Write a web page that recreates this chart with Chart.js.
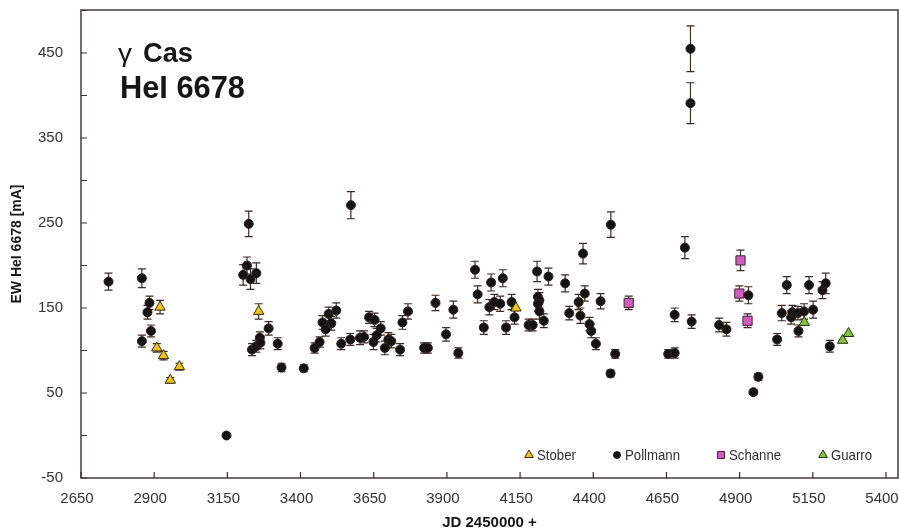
<!DOCTYPE html>
<html>
<head>
<meta charset="utf-8">
<script src="https://cdn.jsdelivr.net/npm/chart.js@4.4.0/dist/chart.umd.min.js"></script>
<style>
  body { margin: 0; background: #fff; }
  canvas { display: block; }
</style>
</head>
<body>
<canvas id="ewChart" width="899" height="531"></canvas>
<script>
// data: JD - 2450000, EW in mA, error half-length
const stoberJD  = [2909, 2920, 2932, 2955, 2986, 3257, 4136];
const stoberEW  = [103, 151, 94, 65, 81, 146, 150];
const stoberErr = [5, 8, 5, 3, 4, 9, 0];

const pollmannJD = [2744, 2858, 2858, 2877, 2884, 2889, 3147, 3204, 3217, 3223, 3229, 3249, 3234, 3249, 3261, 3263,
  3291, 3322, 3335, 3411, 3448, 3465, 3475, 3486, 3496, 3505, 3522, 3539, 3570, 3572, 3603, 3617,
  3634, 3653, 3649, 3660, 3674, 3688, 3700, 3710, 3740, 3748, 3767, 3822, 3835, 3861, 3897, 3922,
  3939, 3996, 4005, 4026, 4045, 4051, 4062, 4082, 4091, 4102, 4121, 4131, 4179, 4193, 4208, 4211,
  4216, 4211, 4216, 4231, 4247, 4304, 4318, 4350, 4356, 4365, 4371, 4387, 4393, 4409, 4425, 4460,
  4475, 4459, 4656, 4678, 4678, 4713, 4732, 4732, 4736, 4830, 4855, 4930, 4947, 4964, 5028, 5044,
  5061, 5076, 5080, 5099, 5101, 5120, 5137, 5151, 5183, 5194, 5208];
const pollmannEW = [181, 185, 111, 145, 156, 123, 0, 189, 200, 249, 184, 191, 101, 105, 115, 109,
  126, 108, 80, 79, 103, 110, 133, 125, 143, 132, 147, 108, 113, 271, 115, 116,
  139, 136, 110, 118, 126, 103, 113, 111, 101, 133, 146, 103, 103, 156, 119, 148,
  97, 195, 166, 127, 151, 180, 157, 155, 185, 127, 157, 139, 130, 130, 193, 163,
  159, 155, 146, 135, 187, 179, 144, 157, 141, 214, 167, 131, 123, 108, 158, 248,
  96, 73, 96, 97, 142, 221, 455, 391, 134, 130, 125, 165, 51, 69, 113, 144,
  177, 139, 145, 144, 123, 146, 177, 148, 171, 179, 105];
const pollmannErr = [10, 11, 7, 8, 8, 7, 0, 12, 10, 15, 12, 12, 7, 7, 7, 7,
  8, 7, 5, 4, 6, 6, 8, 8, 8, 8, 9, 7, 7, 16, 8, 7,
  7, 8, 9, 8, 8, 8, 8, 8, 7, 8, 9, 6, 6, 9, 8, 10,
  6, 10, 10, 8, 9, 10, 9, 9, 10, 8, 9, 8, 7, 7, 12, 9,
  9, 9, 9, 8, 10, 10, 8, 9, 9, 12, 9, 8, 8, 7, 9, 15,
  5, 4, 5, 6, 8, 13, 27, 24, 8, 8, 8, 10, 3, 4, 7, 9,
  10, 8, 8, 8, 7, 9, 10, 10, 10, 12, 7];

const schanneJD  = [4521, 4899, 4903, 4927];
const schanneEW  = [156, 167, 206, 135];
const schanneErr = [8, 9, 12, 8];

const guarroJD  = [5121, 5252, 5272];
const guarroEW  = [133, 112, 120];
const guarroErr = [0, 0, 0];

const xTicks = [2650, 2900, 3150, 3400, 3650, 3900, 4150, 4400, 4650, 4900, 5150, 5400];
const yTicks = [-50, 50, 150, 250, 350, 450];
const X_MAX = 5441;
const Y_MAX = 500.6;

const FONT = '"Liberation Sans", Arial, sans-serif';
const INK = '#3a302b';

function pts(xs, ys, errs) {
    return xs.map((x, i) => ({ x: x, y: ys[i], err: errs[i] }));
}

// draw text squeezed to a given width (the original uses a condensed face)
function fitText(ctx, text, x, y, width) {
    const w = ctx.measureText(text).width;
    ctx.save();
    ctx.translate(x, y);
    ctx.scale(width / w, 1);
    ctx.fillText(text, 0, 0);
    ctx.restore();
}

function noPadding(s) {
    s.paddingLeft = 0; s.paddingRight = 0; s.paddingTop = 0; s.paddingBottom = 0;
}

// error bars, drawn under the markers
const errorBars = {
    id: 'errorBars',
    beforeDatasetsDraw(chart) {
        const { ctx, scales: { x, y } } = chart;
        ctx.save();
        ctx.strokeStyle = '#3d2b20';
        ctx.lineWidth = 1.2;
        chart.data.datasets.forEach(ds => {
            ds.data.forEach(p => {
                if (!p.err) return;
                const px = x.getPixelForValue(p.x);
                const top = y.getPixelForValue(p.y + p.err);
                const bot = y.getPixelForValue(p.y - p.err);
                ctx.beginPath();
                ctx.moveTo(px, top); ctx.lineTo(px, bot);
                ctx.moveTo(px - 4, top); ctx.lineTo(px + 4, top);
                ctx.moveTo(px - 4, bot); ctx.lineTo(px + 4, bot);
                ctx.stroke();
            });
        });
        ctx.restore();
    }
};

// frame, inward ticks, title and legend
const decorations = {
    id: 'decorations',
    afterDatasetsDraw(chart) {
        const { ctx, chartArea: a, scales: { x, y } } = chart;
        ctx.save();
        ctx.strokeStyle = INK;
        ctx.lineWidth = 1.4;
        ctx.strokeRect(a.left, a.top, a.right - a.left, a.bottom - a.top);

        ctx.lineWidth = 1.2;
        ctx.beginPath();
        xTicks.forEach(v => {
            const px = x.getPixelForValue(v);
            ctx.moveTo(px, a.bottom); ctx.lineTo(px, a.bottom - 6);
        });
        yTicks.forEach(t => {
            [t, t + 50].forEach(v => {
                if (v >= y.max) return;
                const py = y.getPixelForValue(v);
                ctx.moveTo(a.left, py); ctx.lineTo(a.left + 6, py);
            });
        });
        ctx.stroke();

        // title
        ctx.fillStyle = '#161616';
        ctx.textBaseline = 'alphabetic';
        ctx.font = '26px ' + FONT;
        fitText(ctx, '\u03b3', 118, 62, 14);
        ctx.font = 'bold 27px ' + FONT;
        fitText(ctx, 'Cas', 143, 62, 50);
        ctx.font = 'bold 32px ' + FONT;
        fitText(ctx, 'HeI 6678', 120, 98, 125);

        // legend
        const legendX = [529, 617, 721, 823];
        ctx.font = '15px ' + FONT;
        ctx.textBaseline = 'middle';
        chart.data.datasets.forEach((ds, i) => {
            ctx.fillStyle = ds.backgroundColor;
            ctx.strokeStyle = ds.borderColor;
            ctx.lineWidth = 1;
            Chart.helpers.drawPoint(ctx, {
                pointStyle: ds.pointStyle,
                radius: ds.pointStyle === 'circle' ? 3.5 : 5,
                borderWidth: 1,
                rotation: 0
            }, legendX[i], 455);
            ctx.fillStyle = '#2e2e2e';
            fitText(ctx, ds.label, legendX[i] + 8, 456, ctx.measureText(ds.label).width * 0.88);
        });
        ctx.restore();
    }
};

new Chart(document.getElementById('ewChart'), {
    type: 'scatter',
    data: {
        datasets: [
            { label: 'Stober', data: pts(stoberJD, stoberEW, stoberErr), pointStyle: 'triangle',
              pointRadius: 6, backgroundColor: '#f2c314', borderColor: '#3b2a12', borderWidth: 1 },
            { label: 'Pollmann', data: pts(pollmannJD, pollmannEW, pollmannErr), pointStyle: 'circle',
              pointRadius: 4.5, backgroundColor: '#151212', borderColor: '#2a2220', borderWidth: 1 },
            { label: 'Schanne', data: pts(schanneJD, schanneEW, schanneErr), pointStyle: 'rect',
              pointRadius: 6.5, backgroundColor: '#d65bbf', borderColor: '#3b2433', borderWidth: 1 },
            { label: 'Guarro', data: pts(guarroJD, guarroEW, guarroErr), pointStyle: 'triangle',
              pointRadius: 6, backgroundColor: '#86c23a', borderColor: '#233312', borderWidth: 1 }
        ]
    },
    options: {
        responsive: false,
        animation: false,
        layout: { autoPadding: false, padding: { top: 10, right: 1, left: 0, bottom: 0 } },
        plugins: { legend: { display: false }, tooltip: { enabled: false } },
        scales: {
            x: {
                type: 'linear', min: 2650, max: X_MAX,
                // blank tick at the far end so the last label does not pull the plot in
                afterBuildTicks: s => { s.ticks = xTicks.concat([X_MAX]).map(v => ({ value: v })); },
                afterFit: s => { s.height = 53; noPadding(s); },
                grid: { display: false, drawTicks: true, tickLength: 12 },
                border: { display: false },
                ticks: { padding: 0, labelOffset: -4, color: '#333', font: { family: FONT, size: 15 }, maxRotation: 0,
                         autoSkip: false, callback: v => xTicks.includes(v) ? String(v) : '' },
                title: { display: true, text: 'JD 2450000 +', color: '#161616',
                         font: { family: FONT, size: 15, weight: 'bold', lineHeight: 1 }, padding: { bottom: 1, top: 0 } }
            },
            y: {
                min: -50, max: Y_MAX,
                afterBuildTicks: s => { s.ticks = yTicks.map(v => ({ value: v })); },
                afterFit: s => { s.width = 81; noPadding(s); },
                grid: { display: false, drawTicks: true, tickLength: 18 },
                border: { display: false },
                ticks: { padding: 0, color: '#333', font: { family: FONT, size: 15 }, callback: v => String(v) },
                title: { display: true, text: 'EW HeI 6678 [mA]', color: '#161616',
                         font: { family: FONT, size: 14, weight: 'bold', lineHeight: 1 }, padding: { top: 10, bottom: 0 } }
            }
        }
    },
    plugins: [errorBars, decorations]
});
</script>
</body>
</html>
